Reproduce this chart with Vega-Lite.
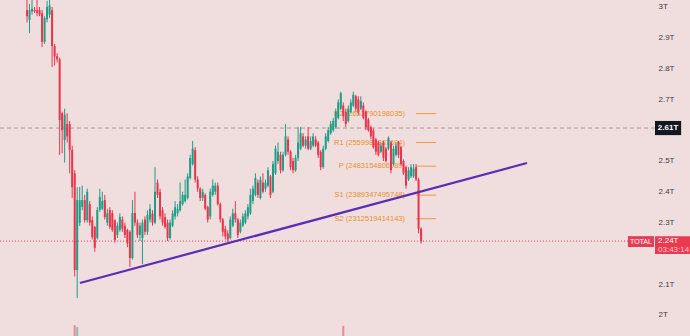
{
  "$schema": "https://vega.github.io/schema/vega-lite/v6.json",
  "width": 650,
  "height": 336,
  "autosize": "none",
  "padding": {"left": 0, "top": 0, "right": 40, "bottom": 0},
  "background": "#f0dede",
  "config": {"view": {"stroke": null}, "font": "Liberation Sans"},
  "datasets": {
    "candles": [
      {"t":0,"o":2.99,"h":3.03,"l":2.95,"c":2.97},
      {"t":1,"o":2.958,"h":3.01,"l":2.915,"c":2.99},
      {"t":2,"o":2.985,"h":3.03,"l":2.975,"c":2.995},
      {"t":3,"o":2.99,"h":3.0,"l":2.98,"c":2.986},
      {"t":4,"o":2.99,"h":3.03,"l":2.97,"c":2.98},
      {"t":5,"o":2.99,"h":3.0,"l":2.97,"c":2.975},
      {"t":6,"o":2.98,"h":2.99,"l":2.87,"c":2.887},
      {"t":7,"o":2.887,"h":2.97,"l":2.88,"c":2.964},
      {"t":8,"o":2.96,"h":3.02,"l":2.95,"c":3.0},
      {"t":9,"o":2.975,"h":3.03,"l":2.965,"c":3.005},
      {"t":10,"o":2.99,"h":3.0,"l":2.805,"c":2.873},
      {"t":11,"o":2.873,"h":2.88,"l":2.81,"c":2.84},
      {"t":12,"o":2.84,"h":2.85,"l":2.82,"c":2.83},
      {"t":13,"o":2.83,"h":2.835,"l":2.52,"c":2.633},
      {"t":14,"o":2.655,"h":2.66,"l":2.525,"c":2.6},
      {"t":15,"o":2.568,"h":2.67,"l":2.495,"c":2.65},
      {"t":16,"o":2.62,"h":2.655,"l":2.56,"c":2.58},
      {"t":17,"o":2.62,"h":2.63,"l":2.46,"c":2.536},
      {"t":18,"o":2.536,"h":2.55,"l":2.38,"c":2.415},
      {"t":19,"o":2.46,"h":2.47,"l":2.125,"c":2.146},
      {"t":20,"o":2.146,"h":2.415,"l":2.055,"c":2.373},
      {"t":21,"o":2.299,"h":2.416,"l":2.289,"c":2.373},
      {"t":22,"o":2.351,"h":2.42,"l":2.34,"c":2.373},
      {"t":23,"o":2.373,"h":2.39,"l":2.3,"c":2.308},
      {"t":24,"o":2.308,"h":2.41,"l":2.3,"c":2.4},
      {"t":25,"o":2.36,"h":2.37,"l":2.29,"c":2.3},
      {"t":26,"o":2.308,"h":2.32,"l":2.245,"c":2.253},
      {"t":27,"o":2.286,"h":2.29,"l":2.205,"c":2.218},
      {"t":28,"o":2.25,"h":2.35,"l":2.245,"c":2.341},
      {"t":29,"o":2.341,"h":2.41,"l":2.335,"c":2.383},
      {"t":30,"o":2.345,"h":2.4,"l":2.34,"c":2.37},
      {"t":31,"o":2.373,"h":2.39,"l":2.31,"c":2.318},
      {"t":32,"o":2.3,"h":2.345,"l":2.29,"c":2.33},
      {"t":33,"o":2.341,"h":2.35,"l":2.28,"c":2.286},
      {"t":34,"o":2.331,"h":2.34,"l":2.27,"c":2.276},
      {"t":35,"o":2.308,"h":2.31,"l":2.235,"c":2.243},
      {"t":36,"o":2.26,"h":2.3,"l":2.25,"c":2.29},
      {"t":37,"o":2.276,"h":2.33,"l":2.27,"c":2.318},
      {"t":38,"o":2.31,"h":2.32,"l":2.27,"c":2.28},
      {"t":39,"o":2.29,"h":2.3,"l":2.25,"c":2.26},
      {"t":40,"o":2.276,"h":2.28,"l":2.22,"c":2.233},
      {"t":41,"o":2.27,"h":2.275,"l":2.156,"c":2.185},
      {"t":42,"o":2.185,"h":2.373,"l":2.18,"c":2.331},
      {"t":43,"o":2.331,"h":2.4,"l":2.29,"c":2.3},
      {"t":44,"o":2.3,"h":2.31,"l":2.25,"c":2.26},
      {"t":45,"o":2.26,"h":2.3,"l":2.24,"c":2.29},
      {"t":46,"o":2.25,"h":2.31,"l":2.165,"c":2.3},
      {"t":47,"o":2.31,"h":2.32,"l":2.26,"c":2.27},
      {"t":48,"o":2.27,"h":2.34,"l":2.26,"c":2.325},
      {"t":49,"o":2.31,"h":2.36,"l":2.3,"c":2.345},
      {"t":50,"o":2.33,"h":2.34,"l":2.29,"c":2.3},
      {"t":51,"o":2.3,"h":2.48,"l":2.295,"c":2.4},
      {"t":52,"o":2.43,"h":2.44,"l":2.38,"c":2.39},
      {"t":53,"o":2.4,"h":2.41,"l":2.31,"c":2.32},
      {"t":54,"o":2.34,"h":2.35,"l":2.29,"c":2.3},
      {"t":55,"o":2.318,"h":2.33,"l":2.28,"c":2.286},
      {"t":56,"o":2.3,"h":2.31,"l":2.24,"c":2.25},
      {"t":57,"o":2.25,"h":2.31,"l":2.245,"c":2.3},
      {"t":58,"o":2.29,"h":2.34,"l":2.285,"c":2.33},
      {"t":59,"o":2.32,"h":2.37,"l":2.31,"c":2.35},
      {"t":60,"o":2.33,"h":2.36,"l":2.32,"c":2.345},
      {"t":61,"o":2.34,"h":2.43,"l":2.335,"c":2.37},
      {"t":62,"o":2.36,"h":2.4,"l":2.355,"c":2.39},
      {"t":63,"o":2.37,"h":2.44,"l":2.365,"c":2.39},
      {"t":64,"o":2.38,"h":2.46,"l":2.375,"c":2.45},
      {"t":65,"o":2.445,"h":2.52,"l":2.44,"c":2.51},
      {"t":66,"o":2.49,"h":2.565,"l":2.485,"c":2.54},
      {"t":67,"o":2.535,"h":2.545,"l":2.43,"c":2.44},
      {"t":68,"o":2.44,"h":2.45,"l":2.4,"c":2.41},
      {"t":69,"o":2.41,"h":2.415,"l":2.37,"c":2.38},
      {"t":70,"o":2.38,"h":2.41,"l":2.37,"c":2.4},
      {"t":71,"o":2.39,"h":2.395,"l":2.34,"c":2.345},
      {"t":72,"o":2.35,"h":2.355,"l":2.3,"c":2.31},
      {"t":73,"o":2.32,"h":2.41,"l":2.31,"c":2.4},
      {"t":74,"o":2.39,"h":2.44,"l":2.385,"c":2.42},
      {"t":75,"o":2.4,"h":2.43,"l":2.39,"c":2.42},
      {"t":76,"o":2.42,"h":2.43,"l":2.355,"c":2.36},
      {"t":77,"o":2.36,"h":2.365,"l":2.3,"c":2.31},
      {"t":78,"o":2.31,"h":2.315,"l":2.255,"c":2.27},
      {"t":79,"o":2.28,"h":2.29,"l":2.245,"c":2.255},
      {"t":80,"o":2.265,"h":2.275,"l":2.237,"c":2.245},
      {"t":81,"o":2.25,"h":2.32,"l":2.245,"c":2.31},
      {"t":82,"o":2.29,"h":2.345,"l":2.285,"c":2.33},
      {"t":83,"o":2.33,"h":2.37,"l":2.3,"c":2.31},
      {"t":84,"o":2.31,"h":2.315,"l":2.25,"c":2.26},
      {"t":85,"o":2.27,"h":2.31,"l":2.265,"c":2.3},
      {"t":86,"o":2.29,"h":2.33,"l":2.285,"c":2.32},
      {"t":87,"o":2.3,"h":2.34,"l":2.295,"c":2.33},
      {"t":88,"o":2.32,"h":2.36,"l":2.31,"c":2.35},
      {"t":89,"o":2.33,"h":2.41,"l":2.325,"c":2.39},
      {"t":90,"o":2.37,"h":2.42,"l":2.36,"c":2.41},
      {"t":91,"o":2.39,"h":2.46,"l":2.385,"c":2.445},
      {"t":92,"o":2.43,"h":2.44,"l":2.38,"c":2.39},
      {"t":93,"o":2.38,"h":2.45,"l":2.375,"c":2.44},
      {"t":94,"o":2.43,"h":2.46,"l":2.395,"c":2.4},
      {"t":95,"o":2.41,"h":2.44,"l":2.4,"c":2.43},
      {"t":96,"o":2.42,"h":2.48,"l":2.415,"c":2.47},
      {"t":97,"o":2.45,"h":2.455,"l":2.38,"c":2.39},
      {"t":98,"o":2.4,"h":2.5,"l":2.395,"c":2.49},
      {"t":99,"o":2.46,"h":2.55,"l":2.455,"c":2.54},
      {"t":100,"o":2.5,"h":2.56,"l":2.49,"c":2.53},
      {"t":101,"o":2.52,"h":2.53,"l":2.46,"c":2.47},
      {"t":102,"o":2.47,"h":2.53,"l":2.465,"c":2.52},
      {"t":103,"o":2.52,"h":2.62,"l":2.515,"c":2.58},
      {"t":104,"o":2.57,"h":2.58,"l":2.52,"c":2.53},
      {"t":105,"o":2.53,"h":2.535,"l":2.47,"c":2.48},
      {"t":106,"o":2.5,"h":2.51,"l":2.46,"c":2.47},
      {"t":107,"o":2.47,"h":2.52,"l":2.465,"c":2.51},
      {"t":108,"o":2.51,"h":2.61,"l":2.5,"c":2.56},
      {"t":109,"o":2.54,"h":2.61,"l":2.535,"c":2.59},
      {"t":110,"o":2.58,"h":2.59,"l":2.545,"c":2.55},
      {"t":111,"o":2.55,"h":2.58,"l":2.54,"c":2.57},
      {"t":112,"o":2.58,"h":2.61,"l":2.535,"c":2.54},
      {"t":113,"o":2.54,"h":2.58,"l":2.535,"c":2.565},
      {"t":114,"o":2.55,"h":2.59,"l":2.545,"c":2.58},
      {"t":115,"o":2.57,"h":2.58,"l":2.545,"c":2.55},
      {"t":116,"o":2.56,"h":2.565,"l":2.51,"c":2.52},
      {"t":117,"o":2.53,"h":2.535,"l":2.47,"c":2.48},
      {"t":118,"o":2.48,"h":2.55,"l":2.475,"c":2.54},
      {"t":119,"o":2.54,"h":2.59,"l":2.535,"c":2.58},
      {"t":120,"o":2.565,"h":2.61,"l":2.56,"c":2.6},
      {"t":121,"o":2.59,"h":2.63,"l":2.585,"c":2.62},
      {"t":122,"o":2.6,"h":2.64,"l":2.595,"c":2.63},
      {"t":123,"o":2.61,"h":2.67,"l":2.605,"c":2.66},
      {"t":124,"o":2.64,"h":2.7,"l":2.635,"c":2.69},
      {"t":125,"o":2.67,"h":2.725,"l":2.665,"c":2.72},
      {"t":126,"o":2.68,"h":2.69,"l":2.63,"c":2.645},
      {"t":127,"o":2.66,"h":2.67,"l":2.61,"c":2.62},
      {"t":128,"o":2.63,"h":2.68,"l":2.625,"c":2.67},
      {"t":129,"o":2.66,"h":2.7,"l":2.655,"c":2.69},
      {"t":130,"o":2.68,"h":2.725,"l":2.675,"c":2.715},
      {"t":131,"o":2.71,"h":2.715,"l":2.66,"c":2.67},
      {"t":132,"o":2.7,"h":2.71,"l":2.65,"c":2.66},
      {"t":133,"o":2.67,"h":2.71,"l":2.665,"c":2.695},
      {"t":134,"o":2.68,"h":2.69,"l":2.635,"c":2.64},
      {"t":135,"o":2.66,"h":2.665,"l":2.6,"c":2.61},
      {"t":136,"o":2.635,"h":2.64,"l":2.595,"c":2.6},
      {"t":137,"o":2.61,"h":2.615,"l":2.57,"c":2.58},
      {"t":138,"o":2.6,"h":2.605,"l":2.54,"c":2.545},
      {"t":139,"o":2.57,"h":2.575,"l":2.52,"c":2.53},
      {"t":140,"o":2.56,"h":2.565,"l":2.515,"c":2.52},
      {"t":141,"o":2.53,"h":2.56,"l":2.525,"c":2.55},
      {"t":142,"o":2.56,"h":2.565,"l":2.5,"c":2.51},
      {"t":143,"o":2.54,"h":2.545,"l":2.495,"c":2.5},
      {"t":144,"o":2.54,"h":2.58,"l":2.535,"c":2.575},
      {"t":145,"o":2.56,"h":2.565,"l":2.46,"c":2.47},
      {"t":146,"o":2.49,"h":2.55,"l":2.485,"c":2.54},
      {"t":147,"o":2.52,"h":2.56,"l":2.515,"c":2.55},
      {"t":148,"o":2.56,"h":2.565,"l":2.51,"c":2.52},
      {"t":149,"o":2.545,"h":2.55,"l":2.485,"c":2.49},
      {"t":150,"o":2.5,"h":2.505,"l":2.455,"c":2.46},
      {"t":151,"o":2.48,"h":2.485,"l":2.41,"c":2.42},
      {"t":152,"o":2.44,"h":2.48,"l":2.435,"c":2.47},
      {"t":153,"o":2.45,"h":2.49,"l":2.445,"c":2.48},
      {"t":154,"o":2.45,"h":2.49,"l":2.445,"c":2.475},
      {"t":155,"o":2.48,"h":2.49,"l":2.435,"c":2.44},
      {"t":156,"o":2.44,"h":2.445,"l":2.265,"c":2.28},
      {"t":157,"o":2.28,"h":2.285,"l":2.232,"c":2.24}
    ],
    "volume": [
      {"t":19,"v":1.3,"dir":"down"},
      {"t":20,"v":1.05,"dir":"up"},
      {"t":126,"v":1.2,"dir":"down"}
    ],
    "trend": [
      {"t":21.1,"p":2.104},
      {"t":199.2,"p":2.4935}
    ],
    "pivots": [
      {"label":"R2 (2653790198035)","p":2.6538,"t0":155,"t1":163,"tl":150.6},
      {"label":"R1 (2559982887694)","p":2.56,"t0":155,"t1":163,"tl":150.6},
      {"label":"P (2483154806089)","p":2.4832,"t0":155,"t1":163,"tl":150.6},
      {"label":"S1 (2389347495748)","p":2.3893,"t0":155,"t1":163,"tl":150.6},
      {"label":"S2 (2312519414143)","p":2.3125,"t0":155,"t1":163,"tl":150.6}
    ],
    "refs": [
      {"label":"2.61T","p":2.607,"t0":-10.76,"t1":250.2,"b0":250.2,"b1":260.6,"bc":255.4,"lo":2.584,"hi":2.63}
    ],
    "last": [
      {"label":"2.24T","timer":"03:43:14","p":2.24,"pt":2.211,"t0":-10.76,"t1":239.4,"b0":250.2,"b1":264.2,"lo":2.198,"hi":2.256,"tag":"TOTAL","g0":239.4,"g1":249.8,"glo":2.2207,"gt":244.6,"gp":2.2385,"lt":251.4}
    ]
  },
  "layer": [
    {
      "layer": [
        {
          "data": {"name": "pivots"},
          "mark": {"type": "text", "align": "right", "baseline": "middle", "fontSize": 7.5, "color": "#e8912c"},
          "encoding": {
            "x": {"field": "tl", "type": "quantitative", "scale": {"domain": [-10.757, 248.2], "nice": false, "zero": false}, "axis": null},
            "y": {"field": "p", "type": "quantitative", "scale": {"domain": [1.9318, 3.0227], "nice": false, "zero": false},
                  "axis": {"orient": "right", "values": [2, 2.1, 2.3, 2.4, 2.5, 2.7, 2.8, 2.9, 3], "labelExpr": "toString(datum.value) + 'T'", "domain": false, "ticks": false, "grid": false, "labelPadding": 8, "labelFontSize": 8, "labelColor": "#3c3c3c", "labelAlign": "left", "labelBaseline": "middle", "title": null}},
            "text": {"field": "label", "type": "nominal"}
          }
        },
        {
          "data": {"name": "pivots"},
          "mark": {"type": "rule", "color": "#f0983c", "strokeWidth": 1},
          "encoding": {
            "x": {"field": "t0", "type": "quantitative"},
            "x2": {"field": "t1"},
            "y": {"field": "p", "type": "quantitative"}
          }
        },
        {
          "data": {"name": "refs"},
          "mark": {"type": "rule", "color": "#a89a9a", "strokeWidth": 1, "strokeDash": [4, 3]},
          "encoding": {
            "x": {"field": "t0", "type": "quantitative"},
            "x2": {"field": "t1"},
            "y": {"field": "p", "type": "quantitative"}
          }
        },
        {
          "data": {"name": "last"},
          "mark": {"type": "rule", "color": "#e8354d", "strokeWidth": 1, "strokeDash": [1, 2]},
          "encoding": {
            "x": {"field": "t0", "type": "quantitative"},
            "x2": {"field": "t1"},
            "y": {"field": "p", "type": "quantitative"}
          }
        },
        {
          "data": {"name": "candles"},
          "mark": {"type": "rule", "strokeWidth": 1},
          "encoding": {
            "x": {"field": "t", "type": "quantitative"},
            "y": {"field": "l", "type": "quantitative"},
            "y2": {"field": "h"},
            "color": {"condition": {"test": "datum.c >= datum.o", "value": "#1f9d87"}, "value": "#e8354d"}
          }
        },
        {
          "data": {"name": "candles"},
          "mark": {"type": "rule", "strokeWidth": 2},
          "encoding": {
            "x": {"field": "t", "type": "quantitative"},
            "y": {"field": "o", "type": "quantitative"},
            "y2": {"field": "c"},
            "color": {"condition": {"test": "datum.c >= datum.o", "value": "#1f9d87"}, "value": "#e8354d"}
          }
        },
        {
          "data": {"name": "trend"},
          "mark": {"type": "line", "color": "#5b2db4", "strokeWidth": 2.2},
          "encoding": {
            "x": {"field": "t", "type": "quantitative"},
            "y": {"field": "p", "type": "quantitative"}
          }
        },
        {
          "data": {"name": "refs"},
          "mark": {"type": "rect", "color": "#131722"},
          "encoding": {
            "x": {"field": "b0", "type": "quantitative"},
            "x2": {"field": "b1"},
            "y": {"field": "lo", "type": "quantitative"},
            "y2": {"field": "hi"}
          }
        },
        {
          "data": {"name": "refs"},
          "mark": {"type": "text", "color": "#ffffff", "fontSize": 8, "fontWeight": "bold", "align": "center", "baseline": "middle"},
          "encoding": {
            "x": {"field": "bc", "type": "quantitative"},
            "y": {"field": "p", "type": "quantitative"},
            "text": {"field": "label", "type": "nominal"}
          }
        },
        {
          "data": {"name": "last"},
          "mark": {"type": "rect", "color": "#ea3a50"},
          "encoding": {
            "x": {"field": "b0", "type": "quantitative"},
            "x2": {"field": "b1"},
            "y": {"field": "lo", "type": "quantitative"},
            "y2": {"field": "hi"}
          }
        },
        {
          "data": {"name": "last"},
          "mark": {"type": "rect", "color": "#e23e55"},
          "encoding": {
            "x": {"field": "g0", "type": "quantitative"},
            "x2": {"field": "g1"},
            "y": {"field": "glo", "type": "quantitative"},
            "y2": {"field": "hi"}
          }
        },
        {
          "data": {"name": "last"},
          "mark": {"type": "text", "color": "#ffffff", "fontSize": 7, "align": "center", "baseline": "middle"},
          "encoding": {
            "x": {"field": "gt", "type": "quantitative"},
            "y": {"field": "gp", "type": "quantitative"},
            "text": {"field": "tag", "type": "nominal"}
          }
        },
        {
          "data": {"name": "last"},
          "mark": {"type": "text", "color": "#ffffff", "fontSize": 8, "align": "left", "baseline": "middle"},
          "encoding": {
            "x": {"field": "lt", "type": "quantitative"},
            "y": {"field": "p", "type": "quantitative"},
            "text": {"field": "label", "type": "nominal"}
          }
        },
        {
          "data": {"name": "last"},
          "mark": {"type": "text", "color": "#f9c4cb", "fontSize": 8, "align": "left", "baseline": "middle"},
          "encoding": {
            "x": {"field": "lt", "type": "quantitative"},
            "y": {"field": "pt", "type": "quantitative"},
            "text": {"field": "timer", "type": "nominal"}
          }
        }
      ]
    },
    {
      "data": {"name": "volume"},
      "mark": {"type": "rule", "strokeWidth": 2, "opacity": 0.5},
      "encoding": {
        "x": {"field": "t", "type": "quantitative"},
        "y": {"field": "v", "type": "quantitative", "scale": {"domain": [0, 40], "nice": false, "zero": true}, "axis": null},
        "y2": {"datum": 0},
        "color": {"field": "dir", "type": "nominal", "scale": {"domain": ["up", "down"], "range": ["#1f9d87", "#e8354d"]}, "legend": null}
      }
    }
  ],
  "resolve": {"scale": {"y": "independent"}}
}
